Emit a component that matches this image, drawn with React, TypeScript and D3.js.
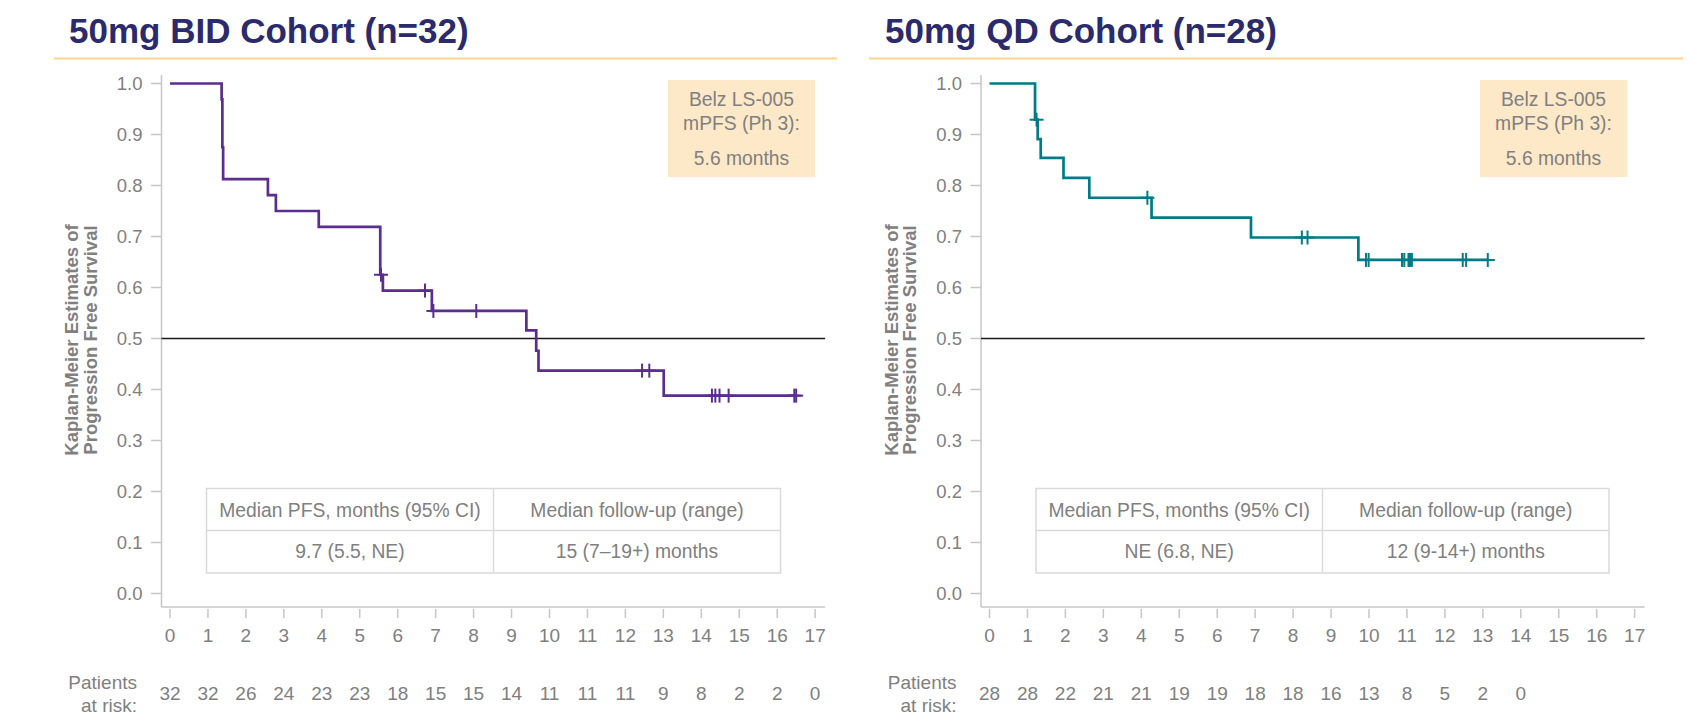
import * as d3 from 'd3';

const MONTHS = [0, 1, 2, 3, 4, 5, 6, 7, 8, 9, 10, 11, 12, 13, 14, 15, 16, 17];
const SURV_TICKS = [0, 0.1, 0.2, 0.3, 0.4, 0.5, 0.6, 0.7, 0.8, 0.9, 1.0];

// 50mg BID: [month, survival after the event]
const bidSteps: [number, number][] = [
  [0, 1.0], [1.36, 0.969], [1.38, 0.875], [1.4, 0.8125], [2.58, 0.781], [2.79, 0.75],
  [3.92, 0.719], [5.54, 0.625], [5.61, 0.594], [6.9, 0.554], [9.39, 0.516],
  [9.65, 0.476], [9.71, 0.437], [13.01, 0.388],
];
const bidCensored: [number, number][] = [
  [5.56, 0.625], [6.72, 0.594], [6.94, 0.554], [8.07, 0.554], [12.44, 0.437], [12.63, 0.437],
  [14.28, 0.388], [14.37, 0.388], [14.48, 0.388], [14.72, 0.388], [16.45, 0.388], [16.5, 0.388],
];
const bidAtRisk = [32, 32, 26, 24, 23, 23, 18, 15, 15, 14, 11, 11, 11, 9, 8, 2, 2, 0];

// 50mg QD
const qdSteps: [number, number][] = [
  [0, 1.0], [1.2, 0.929], [1.27, 0.891], [1.35, 0.854], [1.95, 0.815], [2.63, 0.776],
  [4.27, 0.737], [6.89, 0.698], [9.72, 0.654],
];
const qdCensored: [number, number][] = [
  [1.24, 0.929], [4.16, 0.776], [8.23, 0.698], [8.38, 0.698], [9.92, 0.654], [9.99, 0.654],
  [10.87, 0.654], [10.93, 0.654], [11.04, 0.654], [11.08, 0.654], [11.13, 0.654],
  [12.47, 0.654], [12.56, 0.654], [13.13, 0.654],
];
const qdAtRisk = [28, 28, 22, 21, 21, 19, 19, 18, 18, 16, 13, 8, 5, 2, 0];

const tableHeaders = ['Median PFS, months (95% CI)', 'Median follow-up (range)'];
const bidTable = ['9.7 (5.5, NE)', '15 (7\u201319+) months'];
const qdTable = ['NE (6.8, NE)', '12 (9-14+) months'];
const belzLines = ['Belz LS-005', 'mPFS (Ph 3):', '5.6 months'];

const FONT = '"Liberation Sans", Arial, Helvetica, sans-serif';
const GREY = '#808080';
const AXIS = '#c6c6c6';

interface PanelProps {
  title: string;
  colour: string;
  steps: [number, number][];
  censored: [number, number][];
  atRisk: number[];
  end: number;
  shift: number;
  titleX: number;
  rule: [number, number];
  table: { x0: number; x1: number; mid: number; cells: string[] };
  box: { x0: number; x1: number };
}

function Panel({ title, colour, steps, censored, atRisk, end, shift, titleX, rule, table, box }: PanelProps) {
  const axisX = 161.5 + shift;
  const x = d3.scaleLinear().domain([0, 17]).range([170 + shift, 170 + shift + 17 * 37.95]);
  const y = d3.scaleLinear().domain([0, 1]).range([593.5, 83.5]);
  const right = x(17) + 10;

  const pts: [number, number][] = [...steps, [end, steps[steps.length - 1][1]]];
  const line = d3.line<[number, number]>()
    .x(d => x(d[0]))
    .y(d => y(d[1]))
    .curve(d3.curveStepAfter);

  return (
    <g fontFamily={FONT}>
      <text x={titleX} y={43.3} fontSize={35} fontWeight="bold" fill="#2a2a6c">{title}</text>
      <line x1={rule[0]} x2={rule[1]} y1={58.5} y2={58.5} stroke="#fbd68a" strokeWidth={2} />

      {/* y axis */}
      <line x1={axisX} x2={axisX} y1={75} y2={607} stroke={AXIS} strokeWidth={1.5} />
      {SURV_TICKS.map(t => (
        <g key={t}>
          <line x1={axisX - 10.5} x2={axisX} y1={y(t)} y2={y(t)} stroke={AXIS} strokeWidth={1.5} />
          <text x={axisX - 19} y={y(t)} dy="0.35em" textAnchor="end" fontSize={18.5} fill={GREY}>
            {t.toFixed(1)}
          </text>
        </g>
      ))}
      <g fontSize={18.5} fontWeight="bold" fill={GREY} textAnchor="middle">
        <text transform={`translate(${78 + shift},340) rotate(-90)`}>Kaplan-Meier Estimates of</text>
        <text transform={`translate(${96.5 + shift},340) rotate(-90)`}>Progression Free Survival</text>
      </g>

      {/* x axis */}
      <line x1={axisX} x2={right} y1={607} y2={607} stroke={AXIS} strokeWidth={1.5} />
      {MONTHS.map(m => (
        <g key={m}>
          <line x1={x(m)} x2={x(m)} y1={609} y2={618} stroke={AXIS} strokeWidth={1.5} />
          <text x={x(m)} y={641.5} textAnchor="middle" fontSize={19} fill={GREY}>{m}</text>
        </g>
      ))}

      {/* at risk */}
      <text x={137 + shift} y={688.5} textAnchor="end" fontSize={19} fill={GREY}>Patients</text>
      <text x={137 + shift} y={711.5} textAnchor="end" fontSize={19} fill={GREY}>at risk:</text>
      {atRisk.map((n, i) => (
        <text key={i} x={x(MONTHS[i])} y={699.5} textAnchor="middle" fontSize={19} fill={GREY}>{n}</text>
      ))}

      {/* median reference */}
      <line x1={axisX} x2={right} y1={y(0.5)} y2={y(0.5)} stroke="#1a1a1a" strokeWidth={1.5} />

      {/* Belz box */}
      <rect x={box.x0} y={80} width={box.x1 - box.x0} height={97} fill="#fde9c8" />
      {belzLines.map((s, i) => (
        <text key={s} x={(box.x0 + box.x1) / 2} y={[99.5, 123.5, 158.5][i]} dy="0.35em"
          textAnchor="middle" fontSize={19.3} fill={GREY}>{s}</text>
      ))}

      {/* table */}
      <g stroke="#dadada" strokeWidth={1.5} fill="none">
        <rect x={table.x0} y={488.5} width={table.x1 - table.x0} height={84.5} />
        <line x1={table.x0} x2={table.x1} y1={530.5} y2={530.5} />
        <line x1={table.mid} x2={table.mid} y1={488.5} y2={573} />
      </g>
      {[0, 1].map(c => {
        const cx = c === 0 ? (table.x0 + table.mid) / 2 : (table.mid + table.x1) / 2;
        return (
          <g key={c} fontSize={19.3} fill={GREY} textAnchor="middle">
            <text x={cx} y={510.5} dy="0.35em">{tableHeaders[c]}</text>
            <text x={cx} y={551.5} dy="0.35em">{table.cells[c]}</text>
          </g>
        );
      })}

      {/* KM curve */}
      <path d={line(pts) ?? ''} fill="none" stroke={colour} strokeWidth={2.7} />
      {censored.map((d, i) => (
        <g key={i} stroke={colour} strokeWidth={2}>
          <line x1={x(d[0])} x2={x(d[0])} y1={y(d[1]) - 7} y2={y(d[1]) + 7} />
          <line x1={x(d[0]) - 7} x2={x(d[0]) + 7} y1={y(d[1])} y2={y(d[1])} />
        </g>
      ))}
    </g>
  );
}

export default function App() {
  return (
    <svg width={1692} height={727} style={{ position: 'absolute', left: 0, top: 0, background: '#fff' }}>
      <Panel
        title="50mg BID Cohort (n=32)"
        colour="#5b2d8e"
        steps={bidSteps}
        censored={bidCensored}
        atRisk={bidAtRisk}
        end={16.5}
        shift={0}
        titleX={69}
        rule={[54, 837]}
        table={{ x0: 206.5, x1: 780.5, mid: 493.5, cells: bidTable }}
        box={{ x0: 668, x1: 815 }}
      />
      <Panel
        title="50mg QD Cohort (n=28)"
        colour="#007b87"
        steps={qdSteps}
        censored={qdCensored}
        atRisk={qdAtRisk}
        end={13.13}
        shift={819.5}
        titleX={885}
        rule={[869, 1683]}
        table={{ x0: 1036, x1: 1609, mid: 1322.5, cells: qdTable }}
        box={{ x0: 1480, x1: 1627 }}
      />
    </svg>
  );
}
